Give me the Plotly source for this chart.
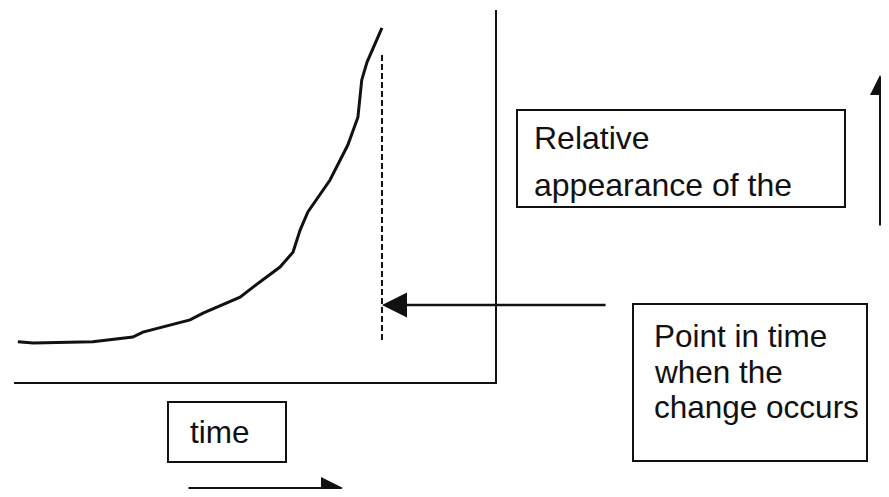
import plotly.graph_objects as go

# curve: time (0-100 across the frame) vs relative appearance (0-100)
time = [0.8, 4.0, 16.4, 24.7, 26.8, 36.6, 39.3, 44.3, 47.0, 49.7,
        55.3, 58.0, 59.5, 61.1, 65.7, 69.4, 71.5, 72.3, 73.4, 76.5]
appearance = [10.8, 10.5, 10.8, 12.1, 13.4, 16.7, 18.5, 21.2, 22.8, 25.5,
              30.9, 34.9, 40.9, 45.7, 54.3, 63.7, 71.2, 81.2, 86.0, 95.2]

change_time = 76.5
change_span = [11.3, 88.7]
pointer_level = 20.7
pointer_start = 123.3

box_labels = {
    "appearance": ["Relative", "appearance of the"],
    "change": ["Point in time", "when the", "change occurs"],
    "time": ["time"],
}

# page is 889x497 but the html body keeps an 8px margin
PAGE_W, PAGE_H, PAD = 889, 497, 8
W, H = PAGE_W - 2 * PAD, PAGE_H - 2 * PAD
INK = "#111111"


def px(x):
    return (x - PAD) / W


def py(y):
    return 1 - (y - PAD) / H


def font(size):
    return dict(family="Liberation Sans, Arial, sans-serif", size=size, color=INK)


fig = go.Figure()

fig.add_trace(go.Scatter(
    x=time, y=appearance, mode="lines",
    line=dict(color=INK, width=3), showlegend=False, hoverinfo="skip",
))

fig.add_trace(go.Scatter(
    x=[change_time, change_time], y=change_span, mode="lines",
    line=dict(color=INK, width=2, dash="6px,3px"), showlegend=False, hoverinfo="skip",
))

# arrow pointing at the moment of change
fig.add_annotation(
    x=change_time, y=pointer_level, ax=pointer_start, ay=pointer_level,
    xref="x", yref="y", axref="x", ayref="y", text="",
    showarrow=True, arrowhead=2, arrowsize=2, arrowwidth=2.5, arrowcolor=INK, standoff=0,
)

# up arrow on the right
fig.add_annotation(
    x=px(880), y=py(75), xref="paper", yref="paper", ax=0, ay=152, text="",
    showarrow=True, arrowhead=2, arrowsize=2, arrowwidth=2, arrowcolor=INK, standoff=0,
)

# time arrow at the bottom
fig.add_annotation(
    x=px(343), y=py(488), xref="paper", yref="paper", ax=-156, ay=0, text="",
    showarrow=True, arrowhead=2, arrowsize=2.2, arrowwidth=2, arrowcolor=INK, standoff=0,
)

boxes = [
    ((517, 110, 845, 207), 532, [138, 185], box_labels["appearance"], 32),
    ((633, 304, 867, 461), 652, [336, 372, 407], box_labels["change"], 31.5),
    ((168, 402, 286, 462), 188, [432], box_labels["time"], 31.5),
]
for (x0, y0, x1, y1), tx, rows, lines, size in boxes:
    fig.add_shape(
        type="rect", xref="paper", yref="paper",
        x0=px(x0), x1=px(x1), y0=py(y1), y1=py(y0),
        line=dict(color=INK, width=2), fillcolor="white", layer="below",
    )
    for ty, txt in zip(rows, lines):
        fig.add_annotation(
            x=px(tx), y=py(ty), xref="paper", yref="paper", text=txt,
            showarrow=False, xanchor="left", yanchor="middle", font=font(size),
        )

fig.update_layout(
    width=W, height=H,
    margin=dict(l=0, r=0, t=0, b=0),
    paper_bgcolor="white", plot_bgcolor="white",
    xaxis=dict(domain=[px(14), px(495)], range=[0, 100], showline=True,
               linecolor=INK, linewidth=2, showgrid=False, zeroline=False,
               showticklabels=False, ticks=""),
    yaxis=dict(domain=[py(382), py(10)], range=[0, 100], side="right", showline=True,
               linecolor=INK, linewidth=2, showgrid=False, zeroline=False,
               showticklabels=False, ticks=""),
    showlegend=False,
)

fig.write_html("out.html", config={"displayModeBar": False})
